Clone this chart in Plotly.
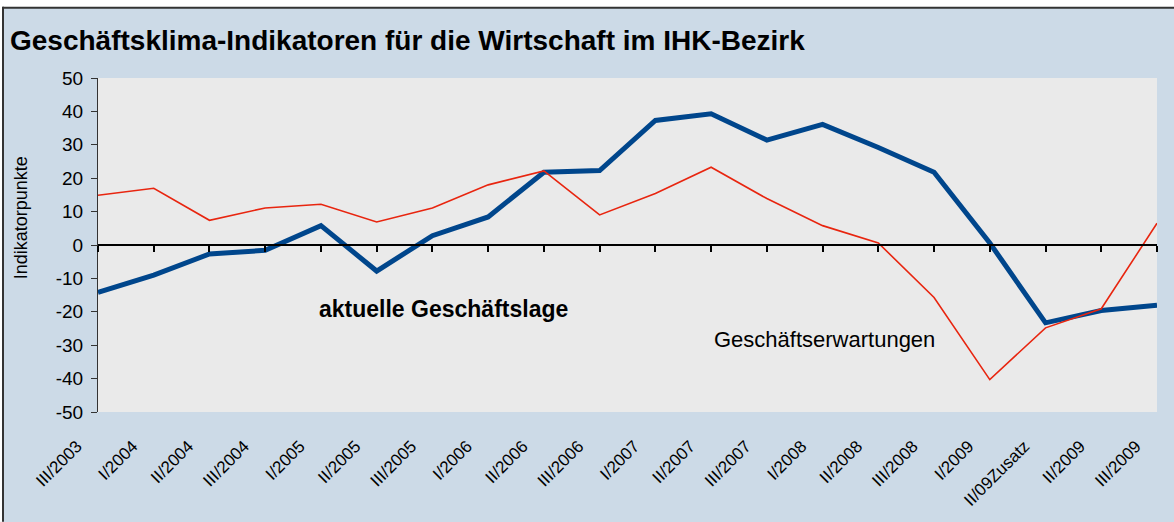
import plotly.graph_objects as go

categories = ["III/2003", "I/2004", "II/2004", "III/2004", "I/2005", "II/2005", "III/2005",
              "I/2006", "II/2006", "III/2006", "I/2007", "II/2007", "III/2007", "I/2008",
              "II/2008", "III/2008", "I/2009", "II/09Zusatz", "II/2009", "III/2009"]
geschaeftslage = [-14.2, -9.0, -2.7, -1.6, 5.8, -7.8, 2.8, 8.4, 21.8, 22.3, 37.3, 39.3,
                  31.4, 36.1, 29.2, 21.8, 0.6, -23.3, -19.6, -18.0]
erwartungen = [14.9, 17.0, 7.4, 11.1, 12.2, 6.9, 11.1, 18.0, 22.2, 9.0, 15.4, 23.3,
               13.9, 5.8, 0.6, -15.7, -40.3, -24.8, -19.1, 6.5]
y_ticks = [50, 40, 30, 20, 10, 0, -10, -20, -30, -40, -50]
y_tick_labels = ["50", "40", "30", "20", "10", "0", "-10", "-20", "-30", "-40", "-50"]

idx = list(range(len(categories)))

W, H = 1174, 522
L, R, T, B = 98, 17, 78, 106
pw, ph = W - L - R, H - T - B

def px_x(p):
    return (p - L) / pw

def px_y(p):
    return (H - B - p) / ph

BG = "#CCDAE7"
FONT = "Liberation Sans, Arial, sans-serif"

fig = go.Figure()
fig.add_trace(go.Scatter(x=idx, y=geschaeftslage, mode="lines", name="aktuelle Geschäftslage",
                         line=dict(color="#00468C", width=5), xaxis="x", yaxis="y",
                         hoverinfo="skip"))
fig.add_trace(go.Scatter(x=idx, y=erwartungen, mode="lines", name="Geschäftserwartungen",
                         line=dict(color="#E8250F", width=1.6), xaxis="x2", yaxis="y",
                         hoverinfo="skip"))

fig.update_layout(
    width=W, height=H,
    margin=dict(l=L, r=R, t=T, b=B, pad=0),
    paper_bgcolor=BG, plot_bgcolor="#EAEAEA",
    showlegend=False,
    font=dict(family=FONT, color="#000000"),
    title=dict(text="<b>Geschäftsklima-Indikatoren für die Wirtschaft im IHK-Bezirk</b>",
               x=10 / W, y=1 - 40 / H, xanchor="left", yanchor="middle", xref="container",
               yref="container", font=dict(size=28, family=FONT, color="#000000")),
    xaxis=dict(range=[0, len(categories) - 1], tickmode="array", tickvals=idx,
               ticktext=categories, tickangle=-45, showgrid=False, zeroline=False,
               showline=False, ticks="", tickfont=dict(size=17, family=FONT, color="#000000"),
               ticklabelstandoff=20, ticklabelshift=-21, fixedrange=True),
    xaxis2=dict(range=[0, len(categories) - 1], overlaying="x", anchor="free", position=0.5,
                side="bottom", tickmode="array", tickvals=idx, showticklabels=False,
                ticks="outside", ticklen=6, tickwidth=1.5, tickcolor="#000000",
                showline=True, linecolor="#000000", linewidth=1.5, showgrid=False,
                zeroline=False, fixedrange=True),
    yaxis=dict(range=[-50, 50], tickmode="array", tickvals=y_ticks, ticktext=y_tick_labels,
               showgrid=False, zeroline=False, showline=True, linecolor="#333333",
               linewidth=1.2, ticks="outside", ticklen=6, tickcolor="#333333", tickwidth=1.2,
               ticklabelstandoff=4,
               tickfont=dict(size=19, family=FONT, color="#000000"), fixedrange=True),
    annotations=[
        dict(text="Indikatorpunkte", textangle=-90, xref="paper", yref="paper",
             x=px_x(21), y=px_y(220), xanchor="center", yanchor="middle", showarrow=False,
             font=dict(size=18, family=FONT, color="#000000")),
        dict(text="<b>aktuelle Geschäftslage</b>", xref="paper", yref="paper",
             x=px_x(443), y=px_y(312), xanchor="center", yanchor="middle", showarrow=False,
             font=dict(size=23, family=FONT, color="#000000")),
        dict(text="Geschäftserwartungen", xref="paper", yref="paper",
             x=px_x(824), y=px_y(343), xanchor="center", yanchor="middle", showarrow=False,
             font=dict(size=22, family=FONT, color="#000000")),
    ],
    shapes=[
        dict(type="rect", xref="paper", yref="paper", x0=px_x(-5), x1=px_x(W + 5),
             y0=px_y(6.5), y1=px_y(-5), fillcolor="#FFFFFF", line=dict(width=0), layer="below"),
        dict(type="rect", xref="paper", yref="paper", x0=px_x(-5), x1=px_x(2.5),
             y0=px_y(H + 5), y1=px_y(-5), fillcolor="#FFFFFF", line=dict(width=0), layer="below"),
        dict(type="line", xref="paper", yref="paper", x0=px_x(2.5), x1=px_x(W + 5),
             y0=px_y(7), y1=px_y(7), line=dict(color="#333333", width=2)),
        dict(type="line", xref="paper", yref="paper", x0=px_x(3), x1=px_x(3),
             y0=px_y(6), y1=px_y(H + 5), line=dict(color="#333333", width=2)),
    ],
)

fig.write_html("out.html", config={"displayModeBar": False},
               post_script="document.body.style.margin='0';")
